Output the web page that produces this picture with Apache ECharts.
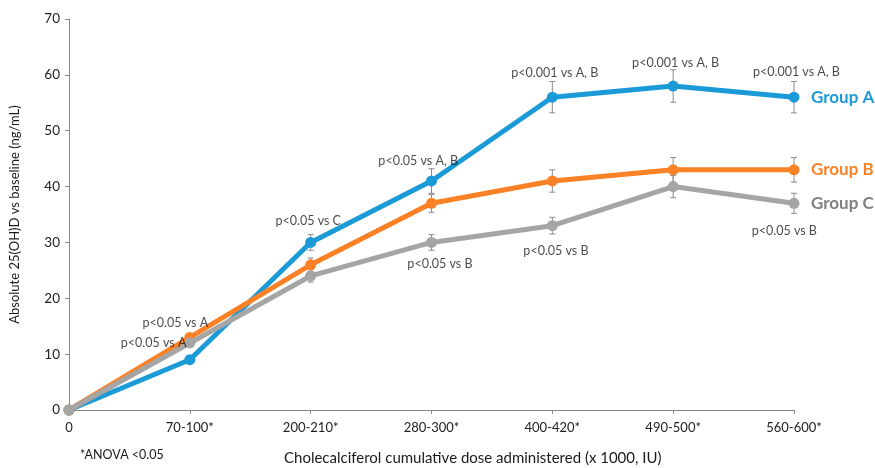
<!DOCTYPE html>
<html>
<head>
<meta charset="utf-8">
<script src="https://cdn.jsdelivr.net/npm/echarts@6/dist/echarts.min.js"></script>
<style>html,body{margin:0;padding:0;background:#fff}#c{width:875px;height:468px}</style>
</head>
<body>
<div id="c"></div>
<script>
var categories = ['0', '70-100*', '200-210*', '280-300*', '400-420*', '490-500*', '560-600*'];
var yTicks = [0, 10, 20, 30, 40, 50, 60, 70];
var groupA = [0, 9, 30, 41, 56, 58, 56];
var groupB = [0, 13, 26, 37, 41, 43, 43];
var groupC = [0, 12, 24, 30, 33, 40, 37];
var errA = [0, 0, 1.4, 2.2, 2.8, 2.9, 2.8];
var errB = [0, 0, 1.2, 1.6, 2.0, 2.2, 2.2];
var errC = [0, 0, 1.1, 1.4, 1.5, 2.0, 1.8];
var annText = ['p<0.05 vs A', 'p<0.05 vs A', 'p<0.05 vs C', 'p<0.05 vs A, B', 'p<0.05 vs B', 'p<0.05 vs B', 'p<0.001 vs A, B', 'p<0.001 vs A, B', 'p<0.001 vs A, B', 'p<0.05 vs B'];
var annX = [0.88, 0.70, 1.98, 2.89, 3.07, 4.03, 4.02, 5.02, 6.02, 5.92];
var annY = [15.6, 12.0, 33.8, 44.6, 26.1, 28.5, 60.3, 62.1, 60.5, 32.0];
var groupNames = ['Group A', 'Group B', 'Group C'];

var FONT = 'Lato, "Open Sans", sans-serif';
var colors = ['#1a9bd7', '#fa8125', '#a5a5a5'];
var labelColors = ['#1a9bd7', '#fa8125', '#808080'];

function errData(vals, errs) {
  var out = [];
  for (var i = 0; i < vals.length; i++) {
    if (errs[i] > 0) out.push([i, vals[i] - errs[i], vals[i] + errs[i]]);
  }
  return out;
}
function errSeries(vals, errs, z) {
  return {
    type: 'custom',
    z: z,
    silent: true,
    data: errData(vals, errs),
    renderItem: function (params, api) {
      var x = api.value(0);
      var lo = api.coord([x, api.value(1)]);
      var hi = api.coord([x, api.value(2)]);
      var w = 3;
      var st = { stroke: '#8c8c8c', lineWidth: 1 };
      return {
        type: 'group',
        children: [
          { type: 'line', shape: { x1: lo[0], y1: lo[1], x2: hi[0], y2: hi[1] }, style: st },
          { type: 'line', shape: { x1: lo[0] - w, y1: lo[1], x2: lo[0] + w, y2: lo[1] }, style: st },
          { type: 'line', shape: { x1: hi[0] - w, y1: hi[1], x2: hi[0] + w, y2: hi[1] }, style: st }
        ]
      };
    }
  };
}
function lineSeries(name, vals, idx) {
  return {
    name: name,
    type: 'line',
    data: vals,
    z: 3 + idx,
    symbol: 'circle',
    symbolSize: 11,
    showAllSymbol: true,
    lineStyle: { width: 5, color: colors[idx] },
    itemStyle: { color: colors[idx] },
    emphasis: { disabled: true },
    endLabel: {
      show: true,
      formatter: name,
      distance: 17,
      fontFamily: FONT,
      fontSize: 17,
      fontWeight: 'bold',
      color: labelColors[idx]
    }
  };
}

var annData = annText.map(function (t, i) { return { name: t, value: [annX[i], annY[i]] }; });

var chart = echarts.init(document.getElementById('c'));
chart.setOption({
  animation: false,
  backgroundColor: '#fff',
  grid: { left: 68, right: 81, top: 19, bottom: 58, containLabel: false },
  xAxis: [{
    type: 'category',
    data: categories,
    boundaryGap: false,
    axisLine: { lineStyle: { color: '#868686', width: 1 } },
    axisTick: { show: true, alignWithLabel: true, length: 4, lineStyle: { color: '#868686' } },
    axisLabel: { color: '#222', fontFamily: FONT, fontSize: 13, margin: 11 },
    splitLine: { show: false }
  }, {
    type: 'value',
    min: 0, max: 6,
    show: false
  }],
  yAxis: {
    type: 'value',
    min: yTicks[0],
    max: yTicks[yTicks.length - 1],
    interval: 10,
    name: 'Absolute 25(OH)D vs baseline (ng/mL)',
    nameLocation: 'middle',
    nameGap: 48,
    nameTextStyle: { color: '#1a1a1a', fontFamily: FONT, fontSize: 13 },
    axisLine: { show: true, lineStyle: { color: '#868686', width: 1 } },
    axisTick: { show: true, length: 4, lineStyle: { color: '#868686' } },
    axisLabel: { color: '#222', fontFamily: FONT, fontSize: 13.5, margin: 9 },
    splitLine: { show: false }
  },
  graphic: [
    { type: 'text', left: 284, top: 451, style: { text: 'Cholecalciferol cumulative dose administered (x 1000, IU)', font: '15px ' + FONT, fill: '#1a1a1a' } },
    { type: 'text', left: 80, top: 448, style: { text: '*ANOVA <0.05', font: '12.5px ' + FONT, fill: '#1a1a1a' } }
  ],
  series: [
    errSeries(groupA, errA, 1),
    errSeries(groupB, errB, 1),
    errSeries(groupC, errC, 1),
    lineSeries(groupNames[0], groupA, 0),
    lineSeries(groupNames[1], groupB, 1),
    lineSeries(groupNames[2], groupC, 2),
    {
      type: 'scatter',
      xAxisIndex: 1,
      data: annData,
      symbolSize: 0,
      silent: true,
      clip: false,
      z: 10,
      label: {
        show: true,
        position: 'inside',
        formatter: function (p) { return p.name; },
        color: '#1a1a1a',
        fontFamily: FONT,
        fontSize: 12.5
      }
    }
  ]
});
</script>
</body>
</html>
